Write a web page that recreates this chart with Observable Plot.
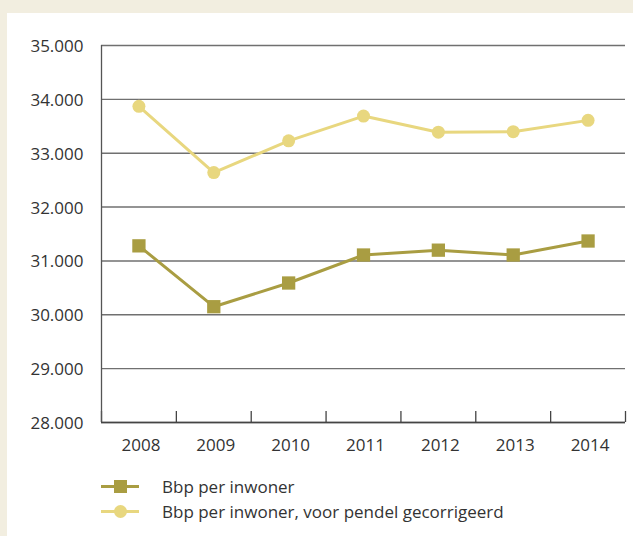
<!DOCTYPE html>
<html>
<head>
<meta charset="utf-8">
<script src="https://cdn.jsdelivr.net/npm/d3@7"></script>
<script src="https://cdn.jsdelivr.net/npm/@observablehq/plot@0.6"></script>
<style>
  html, body { margin: 0; padding: 0; }
  body { width: 633px; height: 536px; background: #f2eee0; position: relative; overflow: hidden; font-family: "Open Sans", sans-serif; }
  #panel { position: absolute; left: 7px; top: 13px; right: 0; bottom: 0; background: #ffffff; }
  #chart { position: absolute; left: 0; top: 0; }
  #legend { position: absolute; left: 101px; top: 474px; font-size: 17px; color: #333; }
  .row { display: flex; align-items: center; height: 25px; }
  .row svg { margin-right: 23px; }
</style>
</head>
<body>
<div id="panel"></div>
<div id="chart"></div>
<div id="legend"></div>
<script>
const years = [2008, 2009, 2010, 2011, 2012, 2013, 2014];
const bbp = [31280, 30150, 30590, 31110, 31200, 31110, 31370];
const bbpPendel = [33870, 32640, 33230, 33690, 33390, 33400, 33610];
const yTicks = [28000, 29000, 30000, 31000, 32000, 33000, 34000, 35000];
const seriesNames = ["Bbp per inwoner", "Bbp per inwoner, voor pendel gecorrigeerd"];
const colors = ["#a99d42", "#e8d77f"];

const rows1 = years.map((y, i) => ({year: y, value: bbp[i]}));
const rows2 = years.map((y, i) => ({year: y, value: bbpPendel[i]}));
const boundaries = years.map(y => y - 0.5).concat([years[years.length - 1] + 0.5]);
const fmt = d => d3.format(",")(d).replace(/,/g, ".");

const chart = Plot.plot({
  width: 633,
  height: 462,
  marginLeft: 101,
  marginRight: 8,
  marginTop: 45,
  marginBottom: 40,
  style: {fontFamily: "Open Sans, sans-serif", fontSize: "17px", color: "#333", background: "transparent"},
  x: {domain: [years[0] - 0.5, years[years.length - 1] + 0.5]},
  y: {domain: [yTicks[0], yTicks[yTicks.length - 1]]},
  marks: [
    Plot.gridY(yTicks, {stroke: "#707070", strokeOpacity: 1, strokeWidth: 1.4}),
    Plot.axisY(yTicks, {tickSize: 0, tickPadding: 18, tickFormat: fmt, label: null, fill: "#333", dy: 1}),
    Plot.axisX(boundaries, {tickSize: 11, dy: -11, tickFormat: () => "", label: null, stroke: "#444", strokeWidth: 1.3}),
    Plot.axisX(years, {tickSize: 0, tickPadding: 16, tickFormat: d => String(d), label: null, fill: "#333", dx: 2}),
    Plot.ruleX([boundaries[0]], {stroke: "#555", strokeWidth: 1.3}),
    Plot.ruleY([yTicks[0]], {stroke: "#444", strokeWidth: 1.4}),
    Plot.line(rows2, {x: "year", y: "value", stroke: colors[1], strokeWidth: 3}),
    Plot.dot(rows2, {x: "year", y: "value", fill: colors[1], r: 6.5, symbol: "circle"}),
    Plot.line(rows1, {x: "year", y: "value", stroke: colors[0], strokeWidth: 3}),
    Plot.dot(rows1, {x: "year", y: "value", fill: colors[0], r: 7.5, symbol: "square"})
  ]
});
document.getElementById("chart").appendChild(chart);

const legend = document.getElementById("legend");
seriesNames.forEach((name, i) => {
  const row = document.createElement("div");
  row.className = "row";
  const marker = i === 0
    ? `<rect x="13" y="6" width="13" height="13" fill="${colors[i]}"/>`
    : `<circle cx="19.5" cy="12.5" r="6.5" fill="${colors[i]}"/>`;
  row.innerHTML = `<svg width="38" height="25"><line x1="0" x2="38" y1="12.5" y2="12.5" stroke="${colors[i]}" stroke-width="3"/>${marker}</svg><span>${name}</span>`;
  legend.appendChild(row);
});
</script>
</body>
</html>
